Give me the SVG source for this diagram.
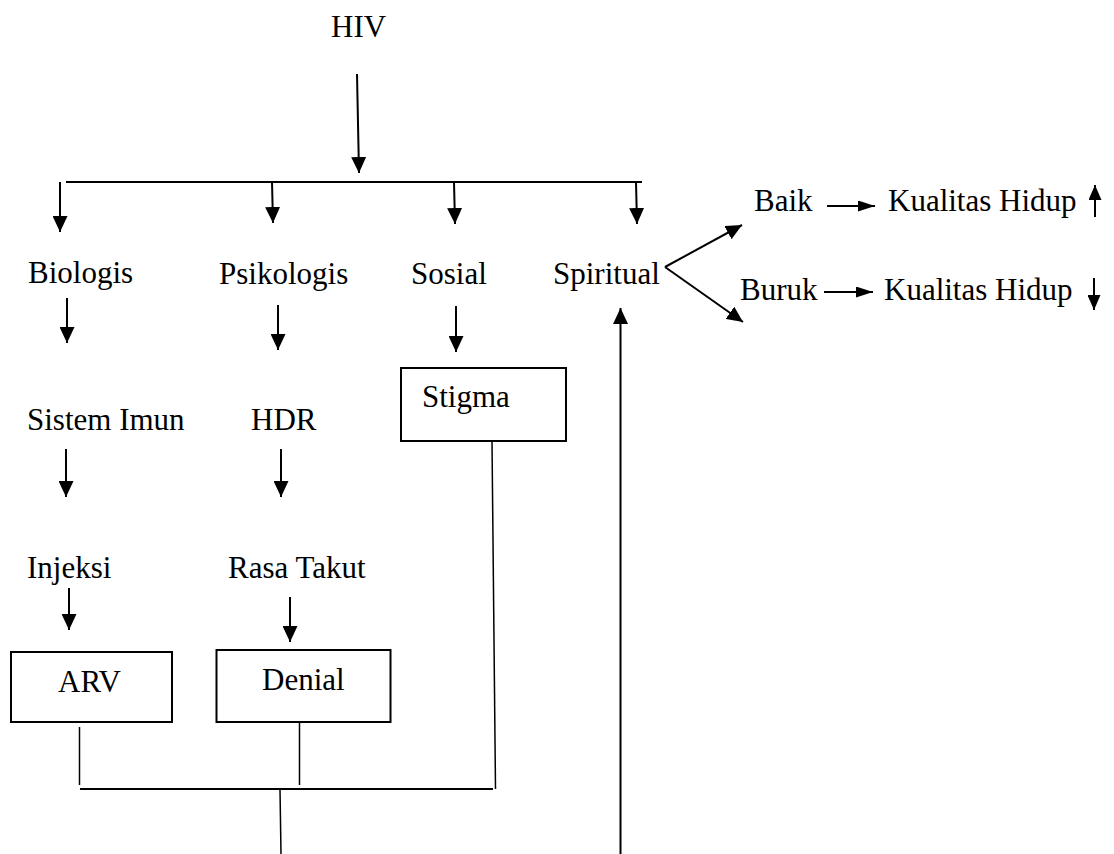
<svg xmlns="http://www.w3.org/2000/svg" width="1114" height="854" viewBox="0 0 1114 854">
<defs>
<style>
text{font-family:"Liberation Serif","Times New Roman",serif;font-size:31px;fill:#000}
.c{stroke:#000;stroke-width:2;fill:none}
.t{stroke:#000;stroke-width:1.5;fill:none}
.b{stroke:#000;stroke-width:2;fill:#fff}
.a{marker-end:url(#ah)}
.s{marker-end:url(#as)}
.x{marker-end:url(#ax)}
</style>
<marker id="ah" markerUnits="userSpaceOnUse" markerWidth="16" markerHeight="15" refX="16" refY="7.5" orient="auto"><path d="M0,0 L16,7.5 L0,15 Z" fill="#000"/></marker>
<marker id="as" markerUnits="userSpaceOnUse" markerWidth="17" markerHeight="11" refX="17" refY="5.5" orient="auto"><path d="M0,0 L17,5.5 L0,11 Z" fill="#000"/></marker>
<marker id="ax" markerUnits="userSpaceOnUse" markerWidth="15" markerHeight="13" refX="15" refY="6.5" orient="auto"><path d="M0,0 L15,6.5 L0,13 Z" fill="#000"/></marker>
</defs>
<rect width="1114" height="854" fill="#fff"/>
<g id="connectors">
<line class="c a" x1="357" y1="74" x2="359" y2="173"/>
<line class="c" x1="66" y1="182" x2="642" y2="182" stroke-width="2.5"/>
<line class="c a" x1="60" y1="182" x2="60" y2="232"/>
<line class="c a" x1="272" y1="182" x2="273" y2="223"/>
<line class="c a" x1="454" y1="182" x2="455" y2="224"/>
<line class="c a" x1="636" y1="182" x2="637" y2="224"/>
<line class="c a" x1="67" y1="298" x2="67" y2="343"/>
<line class="c a" x1="278" y1="305" x2="278" y2="350"/>
<line class="c a" x1="456" y1="306" x2="456" y2="352"/>
<line class="c a" x1="66" y1="449" x2="66" y2="497"/>
<line class="c a" x1="281" y1="449" x2="281" y2="497"/>
<line class="c a" x1="69" y1="588" x2="69" y2="630"/>
<line class="c a" x1="290" y1="597" x2="290" y2="642"/>
<line class="t" x1="79.5" y1="727" x2="79.5" y2="785"/>
<line class="t" x1="299.5" y1="722" x2="299.5" y2="785"/>
<line class="t" x1="492" y1="441" x2="495.5" y2="789"/>
<line class="c" x1="80" y1="789" x2="493" y2="789"/>
<line class="t" x1="280" y1="789" x2="281" y2="854"/>
<line class="c a" x1="620.5" y1="854" x2="620.5" y2="308"/>
<line class="c a" x1="665" y1="267" x2="742" y2="225"/>
<line class="c a" x1="665" y1="267" x2="743" y2="322"/>
<line class="c s" x1="827" y1="206" x2="875" y2="206"/>
<line class="c s" x1="824" y1="292" x2="873" y2="292"/>
<line class="c x" x1="1095" y1="217" x2="1095" y2="185"/>
<line class="c x" x1="1094" y1="278" x2="1094" y2="310"/>
</g>
<g id="hiv"><text x="331" y="37">HIV</text></g>
<g id="biologis"><text x="28" y="283">Biologis</text></g>
<g id="psikologis"><text x="219" y="284">Psikologis</text></g>
<g id="sosial"><text x="411" y="284">Sosial</text></g>
<g id="spiritual"><text x="553" y="284">Spiritual</text></g>
<g id="baik"><text x="754" y="211">Baik</text></g>
<g id="kualitas1"><text x="888" y="211">Kualitas Hidup</text></g>
<g id="buruk"><text x="740" y="300">Buruk</text></g>
<g id="kualitas2"><text x="884" y="300">Kualitas Hidup</text></g>
<g id="sistemimun"><text x="27" y="430">Sistem Imun</text></g>
<g id="hdr"><text x="251" y="430">HDR</text></g>
<g id="stigma"><rect class="b" x="401" y="368" width="165" height="73"/><text x="422" y="407">Stigma</text></g>
<g id="injeksi"><text x="27" y="578">Injeksi</text></g>
<g id="rasatakut"><text x="228" y="578">Rasa Takut</text></g>
<g id="arv"><rect class="b" x="11" y="652" width="161" height="70"/><text x="58" y="692">ARV</text></g>
<g id="denial"><rect class="b" x="216.5" y="650" width="174" height="72"/><text x="262" y="690">Denial</text></g>
</svg>
